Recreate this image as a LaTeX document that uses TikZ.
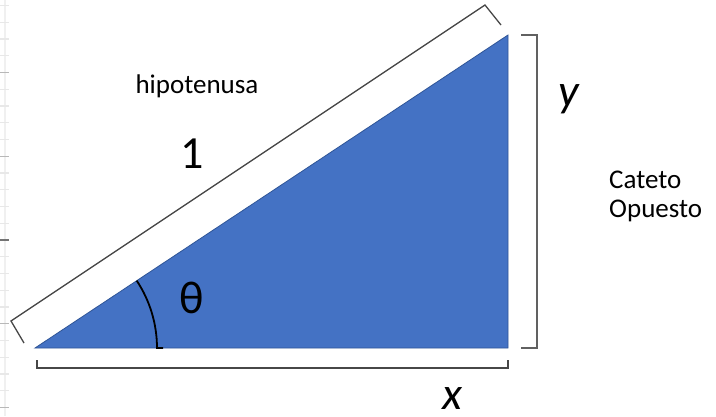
\documentclass[tikz,border=0pt]{standalone}
\usepackage{fontspec}
\setmainfont{Carlito}
\begin{document}
\begin{tikzpicture}[x=1pt,y=-1pt,
  gridtick/.style={draw=#1,line width=1.2pt},
  bracket/.style={draw=black!72,line width=1.3pt,line join=miter},
  lbl/.style={inner sep=0pt,text=black},
  big/.style={lbl,font=\fontsize{46}{50}\selectfont},
  small/.style={lbl,font=\fontsize{27}{29}\selectfont}]
\useasboundingbox (0,0) rectangle (716,416);
\fill[white] (0,0) rectangle (716,416);
% faint grid remnant at the left edge
\draw[draw=black!6,line width=1.2pt] (5,0) -- (5,416);
\foreach \k in {0,...,24}{
  \pgfmathsetmacro\yy{5.5+16.75*\k}
  \draw[gridtick=black!9] (0,\yy) -- (9,\yy);
}
\foreach \k in {4,9,19,24}{
  \pgfmathsetmacro\yy{5.5+16.75*\k}
  \draw[gridtick=black!28] (0,\yy) -- (9,\yy);
}
\draw[gridtick=black!55] (0,240) -- (9,240);
% triangle
\coordinate (A) at (35,348);
\coordinate (B) at (508,348);
\coordinate (C) at (508,35);
\fill[fill={rgb,255:red,68;green,114;blue,196},draw={rgb,255:red,47;green,85;blue,151},line width=0.8pt] (A) -- (B) -- (C) -- cycle;
% brackets
\coordinate (h1) at (24,343); \coordinate (h2) at (11,321);
\coordinate (h3) at (485,5);  \coordinate (h4) at (501,25);
\draw[bracket] (h1) -- (h2) -- (h3) -- (h4);
\coordinate (r1) at (521,35); \coordinate (r2) at (537,35);
\coordinate (r3) at (537,348); \coordinate (r4) at (521,348);
\draw[bracket,draw=black!62] (r1) -- (r2) -- (r3) -- (r4);
\coordinate (b1) at (37,360); \coordinate (b2) at (37,368);
\coordinate (b3) at (508,368); \coordinate (b4) at (508,360);
\draw[bracket] (b1) -- (b2) -- (b3) -- (b4);
% angle arc
\coordinate (a0) at (163,348);
\coordinate (a1) at (157,348);
\draw[black,line width=1.8pt] (a0) -- (a1) arc[start angle=0,end angle=33.5,radius=122pt];
% labels
\node[small,anchor=base] (hip) at (197,93) {hipotenusa};
\node[big,anchor=base] (one) at (192,168) {1};
\node[big,anchor=base,text=black] (theta) at (192,313) {θ};
\node[big,anchor=base] (ylab) at (569,106) {\itshape y};
\node[big,anchor=base] (xlab) at (452,409) {\itshape x};
\node[small,anchor=base west,align=left] (cat) at (609,217) {Cateto\\Opuesto};
\end{tikzpicture}
\end{document}
